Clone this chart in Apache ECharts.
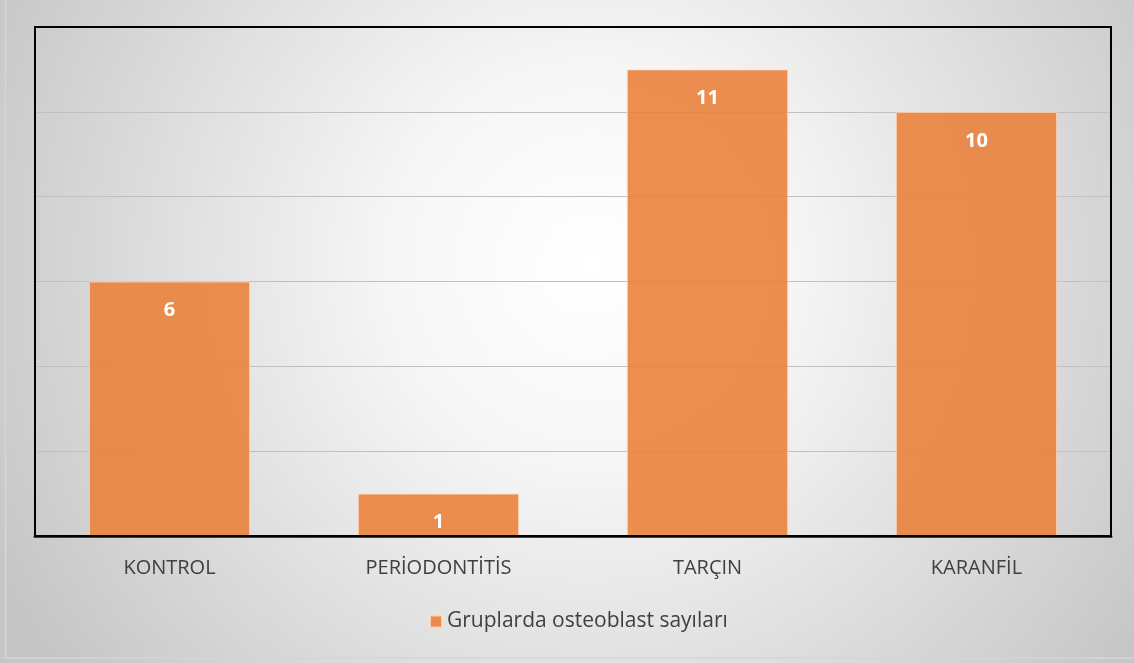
<!DOCTYPE html>
<html>
<head>
<meta charset="utf-8">
<script src="https://cdn.jsdelivr.net/npm/echarts@6/dist/echarts.min.js"></script>
<style>
  html, body { margin: 0; padding: 0; }
  #chart { width: 1134px; height: 663px; }
</style>
</head>
<body>
<div id="chart"></div>
<script>
// Osteoblast counts per group
const categories = ['KONTROL', 'PERİODONTİTİS', 'TARÇIN', 'KARANFİL'];
const counts = [6, 1, 11, 10];
const seriesName = 'Gruplarda osteoblast sayıları';

const FONT = '"Open Sans", "Noto Sans", sans-serif';
const chart = echarts.init(document.getElementById('chart'));

chart.setOption({
  animation: false,
  graphic: [
    {
      type: 'rect', z: -10, silent: true,
      shape: { x: 0, y: 0, width: 1134, height: 663 },
      style: {
        fill: new echarts.graphic.RadialGradient(0.52, 0.4, 1.0, [
          { offset: 0, color: '#ffffff' },
          { offset: 0.3, color: '#f6f6f6' },
          { offset: 0.65, color: '#dedede' },
          { offset: 1, color: '#c6c6c6' }
        ])
      }
    },
    {
      type: 'rect', z: -9, silent: true,
      shape: { x: 5.5, y: -5, width: 1140, height: 663 },
      style: { fill: 'none', stroke: '#d6d6d6', lineWidth: 1.5 }
    },
    {
      type: 'rect', z: 10, silent: true,
      shape: { x: 35, y: 27, width: 1076, height: 509 },
      style: { fill: 'none', stroke: '#000000', lineWidth: 2 }
    }
  ],
  grid: { left: 35, right: 23, top: 27, bottom: 127, containLabel: false },
  legend: {
    bottom: 26,
    left: 424,
    itemWidth: 12,
    itemHeight: 12,
    itemGap: 6,
    icon: 'rect',
    textStyle: { fontFamily: FONT, fontSize: 21, color: '#404040' },
    data: [seriesName]
  },
  xAxis: {
    type: 'category',
    data: categories,
    axisLine: { lineStyle: { color: '#404040', width: 3 } },
    axisTick: { show: false },
    axisLabel: { fontFamily: FONT, fontSize: 20, color: '#404040', margin: 22 }
  },
  yAxis: {
    type: 'value',
    min: 0,
    max: 12,
    interval: 2,
    axisLabel: { show: false },
    axisLine: { show: false },
    axisTick: { show: false },
    splitLine: { lineStyle: { color: '#c0c0c0', width: 1 } }
  },
  series: [{
    name: seriesName,
    type: 'bar',
    data: counts,
    barWidth: '60%',
    itemStyle: {
      color: 'rgba(233, 130, 60, 0.9)',
      borderColor: 'rgba(255, 220, 200, 0.8)',
      borderWidth: 1
    },
    label: {
      show: true,
      position: 'insideTop',
      distance: 19,
      color: '#ffffff',
      fontFamily: FONT,
      fontWeight: 'bold',
      fontSize: 20
    }
  }]
});
</script>
</body>
</html>
